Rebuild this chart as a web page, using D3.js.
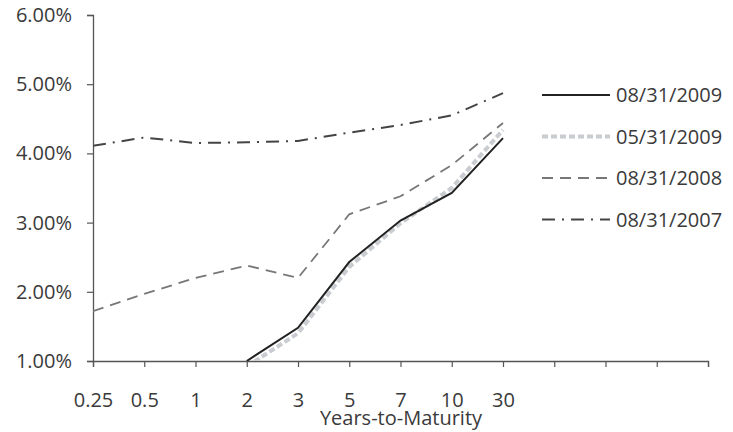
<!DOCTYPE html>
<html>
<head>
<meta charset="utf-8">
<script src="https://cdnjs.cloudflare.com/ajax/libs/d3/7.8.5/d3.min.js"></script>
<style>
  body { margin: 0; background: #fff; }
  svg text { font-family: "Open Sans", "Noto Sans", sans-serif; fill: #3a3a3a; }
</style>
</head>
<body>
<svg width="733" height="432"></svg>
<script>
const maturities = ["0.25", "0.5", "1", "2", "3", "5", "7", "10", "30"];
const emptySlots = 4;

const yieldAug2009 = [null, null, null, 1.00, 1.48, 2.43, 3.03, 3.43, 4.22];
const yieldMay2009 = [null, null, null, 0.92, 1.40, 2.36, 2.99, 3.50, 4.34];
const yieldAug2008 = [1.72, 1.97, 2.20, 2.38, 2.20, 3.12, 3.38, 3.83, 4.44];
const yieldAug2007 = [4.11, 4.23, 4.15, 4.16, 4.18, 4.30, 4.41, 4.55, 4.87];

const yTicks = [1, 2, 3, 4, 5, 6];

const series = [
  { name: "05/31/2009", values: yieldMay2009, color: "#c9ccd0", width: 4, dash: "6,3" },
  { name: "08/31/2008", values: yieldAug2008, color: "#777", width: 1.8, dash: "11,7" },
  { name: "08/31/2007", values: yieldAug2007, color: "#444", width: 2, dash: "13,7,2,7" },
  { name: "08/31/2009", values: yieldAug2009, color: "#222", width: 2, dash: null }
];
const legendOrder = ["08/31/2009", "05/31/2009", "08/31/2008", "08/31/2007"];

const svg = d3.select("svg");

const x = d3.scaleLinear()
  .domain([0, maturities.length + emptySlots - 1])
  .range([93, 708]);

const y = d3.scaleLinear()
  .domain([1, 6])
  .range([361, 15]);

svg.append("clipPath")
  .attr("id", "plot")
  .append("rect")
  .attr("x", 93).attr("y", 0)
  .attr("width", 620).attr("height", 361);

// axes
const xAxis = svg.append("g")
  .attr("transform", "translate(0,361)")
  .call(d3.axisBottom(x)
    .tickValues(d3.range(maturities.length + emptySlots))
    .tickSize(6)
    .tickPadding(26)
    .tickFormat((d) => maturities[d] || ""));

const yAxis = svg.append("g")
  .attr("transform", "translate(93,0)")
  .call(d3.axisLeft(y)
    .tickValues(yTicks)
    .tickSize(6)
    .tickPadding(15)
    .tickFormat((d) => d.toFixed(2) + "%"));

[xAxis, yAxis].forEach((g) => {
  g.select(".domain").attr("stroke", "#555").attr("stroke-width", 1.3);
  g.selectAll(".tick line").attr("stroke", "#555").attr("stroke-width", 1.2);
  g.selectAll(".tick text").attr("font-size", 20).attr("fill", "#3a3a3a");
});

svg.append("text")
  .attr("x", 401)
  .attr("y", 425)
  .attr("text-anchor", "middle")
  .attr("font-size", 20)
  .text("Years-to-Maturity");

// lines
const line = d3.line()
  .defined((d) => d != null)
  .x((d, i) => x(i))
  .y((d) => y(d));

svg.append("g")
  .attr("clip-path", "url(#plot)")
  .selectAll("path")
  .data(series)
  .enter().append("path")
  .attr("fill", "none")
  .attr("stroke", (d) => d.color)
  .attr("stroke-width", (d) => d.width)
  .attr("stroke-dasharray", (d) => d.dash)
  .attr("d", (d) => line(d.values));

// legend
const legend = svg.append("g")
  .attr("transform", "translate(542,95)");

const rows = legend.selectAll("g")
  .data(legendOrder.map((n) => series.find((s) => s.name === n)))
  .enter().append("g")
  .attr("transform", (d, i) => "translate(0," + (i * 41.5) + ")");

rows.append("line")
  .attr("x1", 0).attr("x2", 68)
  .attr("stroke", (d) => d.color)
  .attr("stroke-width", (d) => d.width)
  .attr("stroke-dasharray", (d) => d.dash);

rows.append("text")
  .attr("x", 74)
  .attr("dy", "0.35em")
  .attr("font-size", 20)
  .text((d) => d.name);
</script>
</body>
</html>
